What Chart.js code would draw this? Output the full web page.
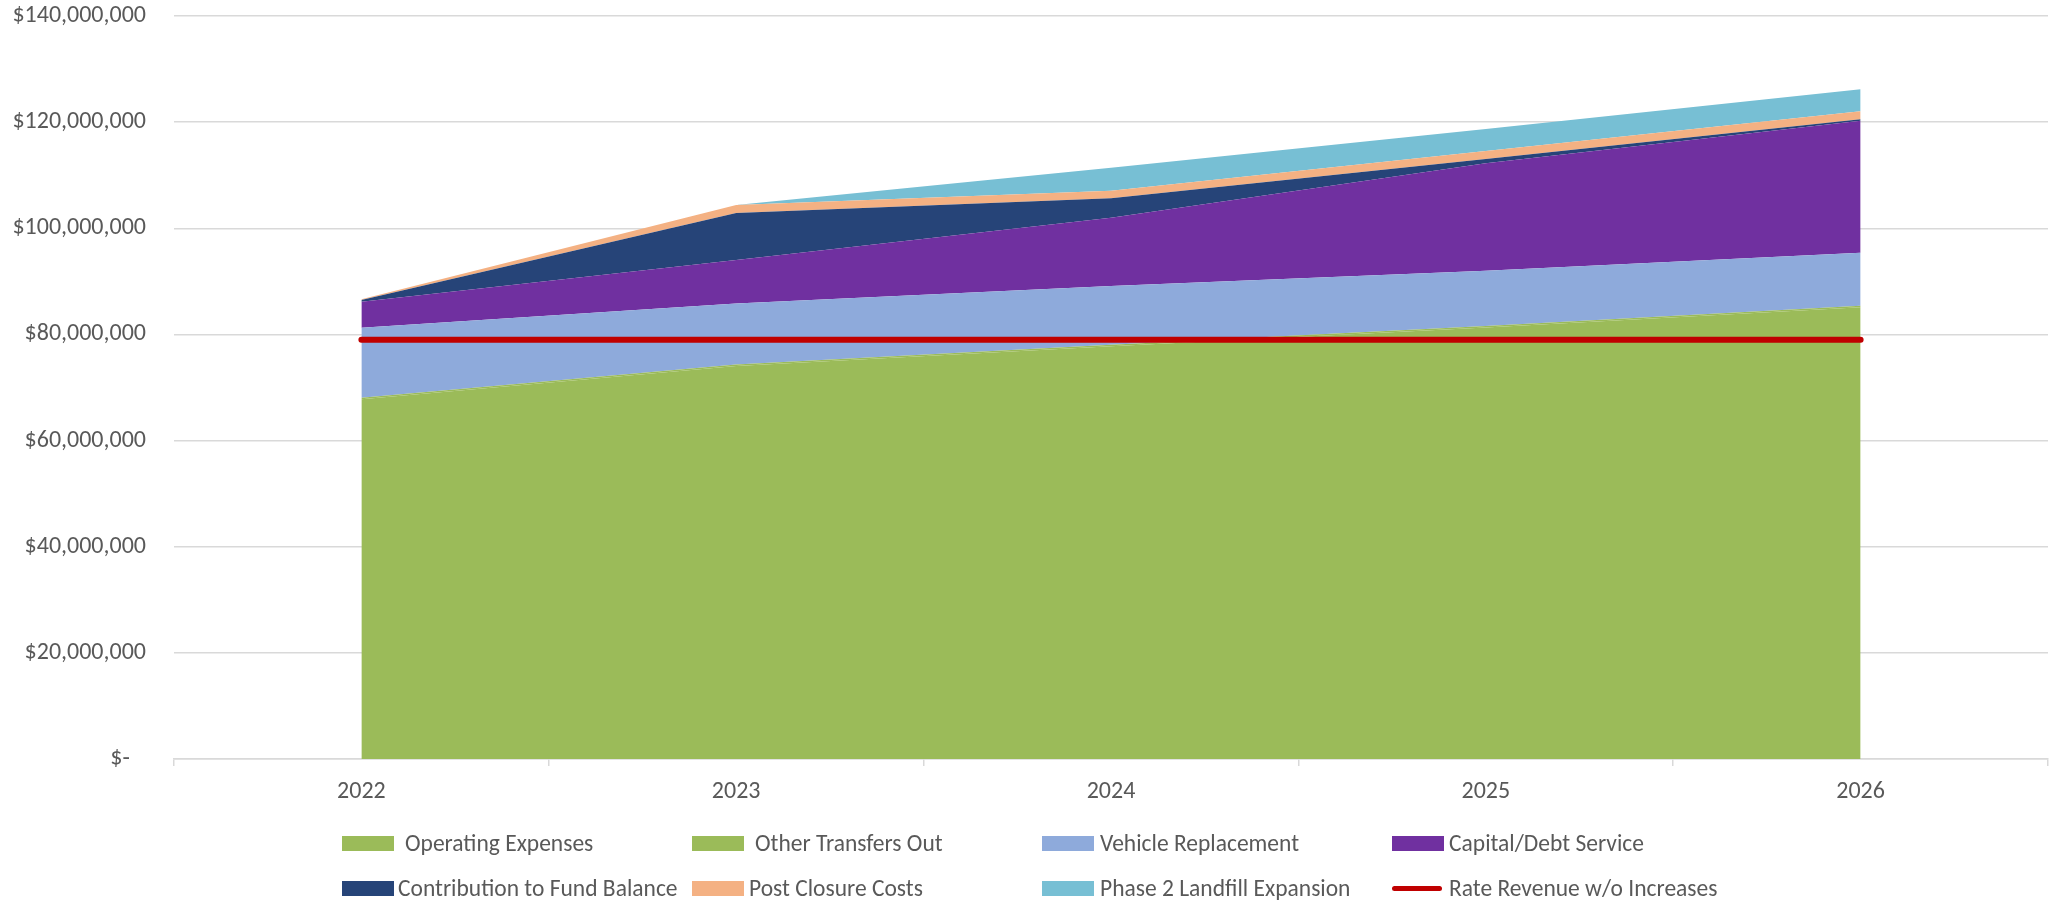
<!DOCTYPE html>
<html>
<head>
<meta charset="utf-8">
<script src="https://cdn.jsdelivr.net/npm/chart.js@4/dist/chart.umd.min.js"></script>
<style>
  html, body { margin: 0; padding: 0; background: #ffffff; }
  #wrap { position: relative; width: 2055px; height: 903px; overflow: hidden; }
  #c { position: absolute; left: 0; top: 0; }
  .lg { position: absolute; font-family: Carlito, Lato, sans-serif; font-size: 23.5px; color: #595959; white-space: nowrap; line-height: 26px; }
  .lg .box { position: absolute; left: 0; top: 5px; width: 52px; height: 15px; }
  .lg .ln { position: absolute; left: 0; top: 10px; width: 50px; height: 5px; border-radius: 3px; }
  .lg .tx { position: absolute; top: -1px; }
</style>
</head>
<body>
<div id="wrap">
  <canvas id="c" width="2055" height="903"></canvas>
  <div id="legend"></div>
</div>
<script>
// ---- data (USD) ----
const years = ['2022', '2023', '2024', '2025', '2026'];
const operatingExpenses   = [67780000, 74040000, 77770000, 81290000, 85120000];
const otherTransfersOut   = [  300000,   300000,   300000,   300000,   300000];
const vehicleReplacement  = [13190000, 11490000, 11060000, 10420000,  9980000];
const capitalDebtService  = [ 4900000,  8200000, 12870000, 20240000, 24880000];
const contributionToFund  = [  320000,  8850000,  3650000,   810000,   260000];
const postClosureCosts    = [  150000,  1510000,  1440000,  1510000,  1510000];
const phase2Landfill      = [       0,        0,  4330000,  4140000,  4140000];
const rateRevenueNoIncr   = [79000000, 79000000, 79000000, 79000000, 79000000];
const yTickValues = [0, 20000000, 40000000, 60000000, 80000000, 100000000, 120000000, 140000000];

const seriesNames = ['Operating Expenses', 'Other Transfers Out', 'Vehicle Replacement', 'Capital/Debt Service',
  'Contribution to Fund Balance', 'Post Closure Costs', 'Phase 2 Landfill Expansion', 'Rate Revenue w/o Increases'];
const seriesColors = ['#9bbb59', '#9bbb59', '#8eaadb', '#7030a0', '#264478', '#f4b183', '#77bfd4', '#c00000'];
const areaSeries = [operatingExpenses, otherTransfersOut, vehicleReplacement, capitalDebtService,
  contributionToFund, postClosureCosts, phase2Landfill];

const FONT = 'Carlito, Lato, sans-serif';
const TEXT = '#595959';
const GRID = '#d9d9d9';

const datasets = areaSeries.map((d, i) => ({
  label: seriesNames[i],
  data: d,
  backgroundColor: seriesColors[i],
  borderColor: seriesColors[i],
  borderWidth: 0,
  pointRadius: 0,
  pointHoverRadius: 0,
  tension: 0,
  fill: i === 0 ? 'origin' : '-1',
  stack: 'costs'
}));
datasets.push({
  label: seriesNames[7],
  data: rateRevenueNoIncr,
  borderColor: seriesColors[7],
  backgroundColor: seriesColors[7],
  borderWidth: 6,
  borderCapStyle: 'round',
  pointRadius: 0,
  pointHoverRadius: 0,
  tension: 0,
  fill: false,
  stack: 'revenue',
  order: -1
});

new Chart(document.getElementById('c'), {
  type: 'line',
  data: { labels: years, datasets: datasets },
  options: {
    responsive: false,
    animation: false,
    devicePixelRatio: 1,
    layout: { padding: { top: 16, right: 7, bottom: 0, left: 0 } },
    plugins: { legend: { display: false }, tooltip: { enabled: false } },
    scales: {
      x: {
        offset: true,
        grid: { display: true, drawOnChartArea: false, offset: true, tickLength: 7, color: GRID, lineWidth: 1.5 },
        border: { display: true, color: GRID, width: 1.5 },
        ticks: { color: TEXT, font: { family: FONT, size: 24 }, padding: 12, maxRotation: 0 },
        afterFit: (s) => { s.height = 144; }
      },
      y: {
        stacked: true,
        min: 0,
        max: 140000000,
        afterBuildTicks: (s) => { s.ticks = yTickValues.map(v => ({ value: v })); },
        grid: { color: GRID, lineWidth: 1.5, drawTicks: false },
        border: { display: false },
        ticks: {
          color: TEXT,
          font: { family: FONT, size: 24 },
          padding: 28,
          callback: (v) => v === 0 ? '$-   ' : '$' + Number(v).toLocaleString('en-US')
        },
        afterFit: (s) => { s.width = 174; s.paddingTop = 0; s.paddingBottom = 0; }
      }
    }
  }
});

// HTML legend (Excel-style grid, 4 columns)
const legendItems = [
  { i: 0, x: 342, y: 831, gap: 11 }, { i: 1, x: 692, y: 831, gap: 11 },
  { i: 2, x: 1042, y: 831, gap: 6 }, { i: 3, x: 1392, y: 831, gap: 5 },
  { i: 4, x: 342, y: 876, gap: 4 }, { i: 5, x: 692, y: 876, gap: 5 },
  { i: 6, x: 1042, y: 876, gap: 6 }, { i: 7, x: 1392, y: 876, gap: 5 }
];
const lg = document.getElementById('legend');
legendItems.forEach(it => {
  const d = document.createElement('div');
  d.className = 'lg';
  d.style.left = it.x + 'px';
  d.style.top = it.y + 'px';
  const mark = document.createElement('div');
  mark.className = it.i === 7 ? 'ln' : 'box';
  mark.style.background = seriesColors[it.i];
  const t = document.createElement('span');
  t.className = 'tx';
  t.style.left = (52 + it.gap) + 'px';
  t.textContent = seriesNames[it.i];
  d.appendChild(mark);
  d.appendChild(t);
  lg.appendChild(d);
});
</script>
</body>
</html>
